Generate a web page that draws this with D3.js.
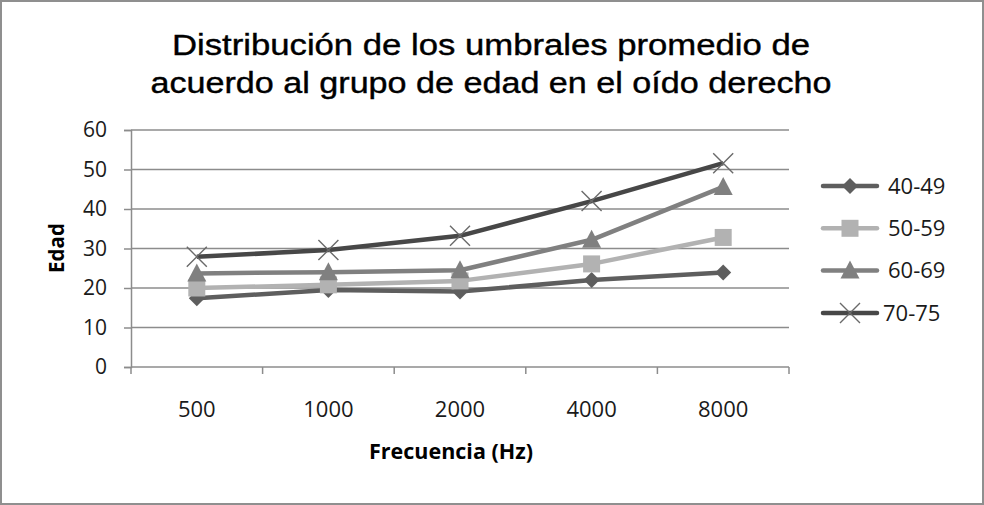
<!DOCTYPE html>
<html>
<head>
<meta charset="utf-8">
<script src="https://cdn.jsdelivr.net/npm/d3@7"></script>
<style>
  html, body { margin: 0; padding: 0; background: #fff; }
  svg { display: block; }
</style>
</head>
<body>
<svg id="chart" width="984" height="505"></svg>
<script>
// Frequencies on the x axis and average thresholds per age group
const frequencies = ["500", "1000", "2000", "4000", "8000"];
const groups = ["40-49", "50-59", "60-69", "70-75"];
const values4049 = [17.4, 19.5, 19.1, 22.0, 23.9];
const values5059 = [20.0, 20.8, 21.8, 26.1, 32.8];
const values6069 = [23.7, 24.0, 24.5, 32.2, 45.6];
const values7075 = [27.9, 29.6, 33.2, 42.0, 51.6];
const yTicks = [0, 10, 20, 30, 40, 50, 60];

const titleLines = ["Distribución de los umbrales promedio de", "acuerdo al grupo de edad en el oído derecho"];
const titleWidths = [638, 681];

const series = [
  { name: groups[0], values: values4049, color: "#5e5e5e", marker: "diamond" },
  { name: groups[1], values: values5059, color: "#b2b2b2", marker: "square" },
  { name: groups[2], values: values6069, color: "#808080", marker: "triangle" },
  { name: groups[3], values: values7075, color: "#474747", marker: "cross" }
];

const svg = d3.select("#chart");
const W = 984, H = 505;
const plot = { left: 131, right: 789, top: 130, bottom: 367 };
const tickFont = "'Open Sans', 'Noto Sans', sans-serif";

// Outer frame
svg.append("rect").attr("x", 1).attr("y", 1).attr("width", W - 2).attr("height", H - 2)
  .attr("fill", "#fff").attr("stroke", "#8f8f8f").attr("stroke-width", 2);

// Title, two lines, slightly widened
svg.append("g").selectAll("text").data(titleLines).join("text")
  .attr("x", 491).attr("y", (d, i) => 55 + i * 38)
  .attr("text-anchor", "middle")
  .attr("font-family", "'Liberation Sans', Arial, sans-serif").attr("font-size", 30)
  .attr("fill", "#000").attr("stroke", "#000").attr("stroke-width", 0.4)
  .attr("textLength", (d, i) => titleWidths[i]).attr("lengthAdjust", "spacingAndGlyphs")
  .text(d => d);

const x = d3.scaleBand().domain(frequencies).range([plot.left, plot.right]);
const y = d3.scaleLinear().domain([0, 60]).range([plot.bottom, plot.top]);

// Horizontal gridlines
svg.append("g").selectAll("line").data(yTicks.filter(t => t > 0)).join("line")
  .attr("x1", plot.left).attr("x2", plot.right)
  .attr("y1", d => y(d)).attr("y2", d => y(d))
  .attr("stroke", "#8c8c8c").attr("stroke-width", 1.5);

// Y axis
const yAxis = svg.append("g").attr("transform", `translate(${plot.left},0)`)
  .call(d3.axisLeft(y).tickValues(yTicks).tickSize(7).tickPadding(17));
yAxis.select(".domain").attr("stroke", "#8c8c8c").attr("stroke-width", 1.5);
yAxis.selectAll(".tick line").attr("stroke", "#8c8c8c").attr("stroke-width", 1.5);
yAxis.selectAll("text").attr("font-family", tickFont).attr("font-size", 21).attr("fill", "#1a1a1a");

// X axis with ticks between categories
const xAxis = svg.append("g").attr("transform", `translate(0,${plot.bottom})`)
  .call(d3.axisBottom(x).tickSize(0).tickPadding(34));
xAxis.select(".domain").remove();
xAxis.selectAll("text").attr("font-family", tickFont).attr("font-size", 22).attr("fill", "#1a1a1a");
svg.append("line").attr("x1", plot.left).attr("x2", plot.right)
  .attr("y1", plot.bottom).attr("y2", plot.bottom)
  .attr("stroke", "#8c8c8c").attr("stroke-width", 1.5);
const bounds = frequencies.map(f => x(f)).concat([x(frequencies[frequencies.length - 1]) + x.bandwidth()]);
svg.append("g").selectAll("line").data(bounds).join("line")
  .attr("x1", d => d).attr("x2", d => d)
  .attr("y1", plot.bottom).attr("y2", plot.bottom + 7)
  .attr("stroke", "#8c8c8c").attr("stroke-width", 1.5);

// Axis titles
svg.append("text").attr("x", 451).attr("y", 459).attr("text-anchor", "middle")
  .attr("font-family", tickFont).attr("font-weight", "bold").attr("font-size", 21.5)
  .attr("fill", "#000").text("Frecuencia (Hz)");
svg.append("text").attr("transform", "translate(64,248) rotate(-90)").attr("text-anchor", "middle")
  .attr("font-family", tickFont).attr("font-weight", "bold").attr("font-size", 20.5)
  .attr("fill", "#000").text("Edad");

// Marker drawing
function drawMarker(g, type, color) {
  if (type === "diamond") {
    g.append("path").attr("d", "M0,-8L8,0L0,8L-8,0Z").attr("fill", color);
  } else if (type === "square") {
    g.append("rect").attr("x", -8.5).attr("y", -8.5).attr("width", 17).attr("height", 17).attr("fill", color);
  } else if (type === "triangle") {
    g.append("path").attr("d", "M0,-10L9.5,8L-9.5,8Z").attr("fill", color);
  } else {
    g.append("path").attr("d", "M-10,-10L10,10M-10,10L10,-10")
      .attr("stroke", "#6a6a6a").attr("stroke-width", 1.4).attr("fill", "none");
  }
}

const line = d3.line().x((d, i) => x(frequencies[i]) + x.bandwidth() / 2).y(d => y(d));

series.forEach(s => {
  svg.append("path").datum(s.values).attr("d", line)
    .attr("fill", "none").attr("stroke", s.color).attr("stroke-width", 4.5)
    .attr("stroke-linejoin", "round");
});
series.forEach(s => {
  s.values.forEach((v, i) => {
    const g = svg.append("g")
      .attr("transform", `translate(${x(frequencies[i]) + x.bandwidth() / 2},${y(v)})`);
    drawMarker(g, s.marker, s.color);
  });
});

// Legend
const legend = svg.append("g");
series.forEach((s, i) => {
  const ly = 186 + i * 42.3;
  legend.append("line").attr("x1", 823).attr("x2", 877).attr("y1", ly).attr("y2", ly)
    .attr("stroke", s.color).attr("stroke-width", 4.5).attr("stroke-linecap", "round");
  const g = legend.append("g").attr("transform", `translate(850,${ly})`);
  drawMarker(g, s.marker, s.color);
  legend.append("text").attr("x", s.marker === "cross" ? 883 : 888).attr("y", ly)
    .attr("dy", "0.35em").attr("font-family", tickFont).attr("font-size", 22)
    .attr("fill", "#1a1a1a").text(s.name);
});
</script>
</body>
</html>
